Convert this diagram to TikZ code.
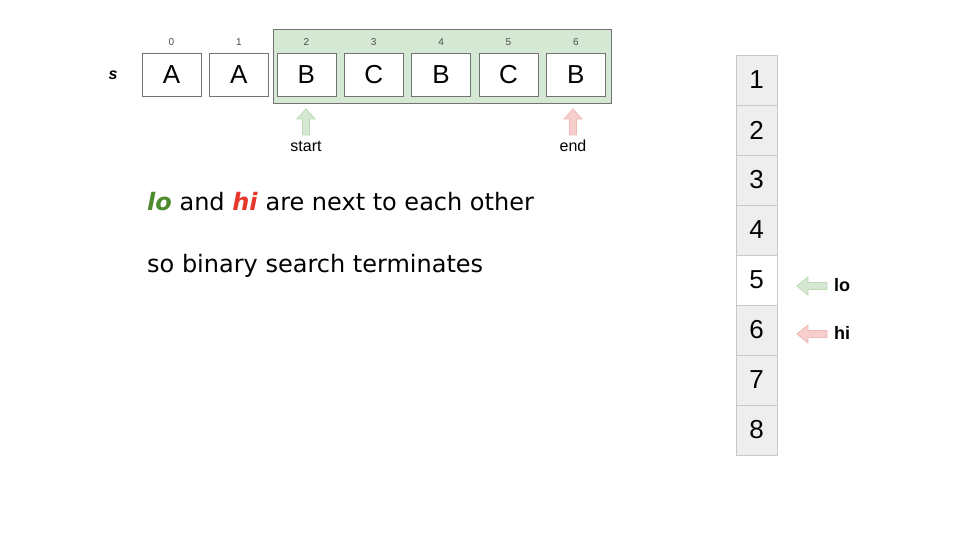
\documentclass[tikz,border=0pt]{standalone}
\usepackage{fontspec}
\setmainfont{Liberation Sans}
\newfontfamily\txtfont{DejaVu Sans}
\usetikzlibrary{fit}
\definecolor{gfill}{HTML}{D5E8D4}
\definecolor{gline}{HTML}{82B366}
\definecolor{rfill}{HTML}{F8CECC}
\definecolor{rline}{HTML}{D08A88}
\definecolor{lotxt}{HTML}{4E8A2E}
\definecolor{hitxt}{HTML}{E8382C}
\definecolor{cellgray}{HTML}{EEEEEE}
\definecolor{cellline}{HTML}{C8C8C8}
\begin{document}
\begin{tikzpicture}[x=1pt,y=-1pt,
  cell/.style={draw=black!55, fill=white, minimum width=59pt, minimum height=43pt, inner sep=0pt, font=\fontsize{26}{26}\selectfont},
  idx/.style={font=\fontsize{10}{10}\selectfont, text=black!70, inner sep=0pt},
  vcell/.style={draw=cellline, fill=cellgray, minimum width=41pt, minimum height=50pt, inner sep=0pt, font=\fontsize{26}{26}\selectfont},
  lbl/.style={font=\fontsize{16}{16}\selectfont, inner sep=0pt},
  uparrow/.pic={\draw[pic actions, line width=0.8pt] (-3.5,0) -- (-3.5,-16) -- (-9,-16) -- (0,-26) -- (9,-16) -- (3.5,-16) -- (3.5,0) -- cycle;},
  leftarrow/.pic={\draw[pic actions, line width=0.8pt] (0,-3.5) -- (-19,-3.5) -- (-19,-9) -- (-30,0) -- (-19,9) -- (-19,3.5) -- (0,3.5) -- cycle;}
]
\useasboundingbox (0,0) rectangle (960,540);
% green frame behind
\node[draw=black!55, fill=gfill, minimum width=338pt, minimum height=74pt, inner sep=0pt] (frame) at (442,66) {};
% cells
\node[font=\fontsize{16}{16}\selectfont\itshape\bfseries, inner sep=0pt] (s) at (113,75) {s};
\foreach \i/\ch in {0/A,1/A,2/B,3/C,4/B,5/C,6/B}{
  \node[cell] (c\i) at ({171.5+67.4*\i},74.5) {\ch};
  \node[idx] (i\i) at ({171.5+67.4*\i},42) {\i};
}
% start / end arrows
\pic[fill=gfill, draw=gfill!70!gline] at (306,135) {uparrow};
\pic[fill=rfill, draw=rfill!70!rline] at (573,135) {uparrow};
\node[lbl] (start) at (306,146) {start};
\node[lbl] (end) at (573,146) {end};
% text
\node[anchor=base west, inner sep=0pt, font=\txtfont\fontsize{24}{24}\selectfont] (t1) at (147,210) {\textcolor{lotxt}{\textbf{\textit{lo}}} and \textcolor{hitxt}{\textbf{\textit{hi}}} are next to each other};
\node[anchor=base west, inner sep=0pt, font=\txtfont\fontsize{24}{24}\selectfont] (t2) at (147,272) {so binary search terminates};
% vertical column
\foreach \n in {1,...,8}{
  \node[vcell] (v\n) at (756.5,{80+50*(\n-1)}) {\n};
}
\node[vcell, fill=white] at (v5) {5};
% lo / hi arrows
\pic[fill=gfill, draw=gfill!70!gline] at (827,286) {leftarrow};
\pic[fill=rfill, draw=rfill!70!rline] at (827,334) {leftarrow};
\node[lbl, font=\fontsize{18}{18}\selectfont\bfseries, anchor=west] (lo) at (834,285) {lo};
\node[lbl, font=\fontsize{18}{18}\selectfont\bfseries, anchor=west] (hi) at (834,333) {hi};
\end{tikzpicture}
\end{document}
